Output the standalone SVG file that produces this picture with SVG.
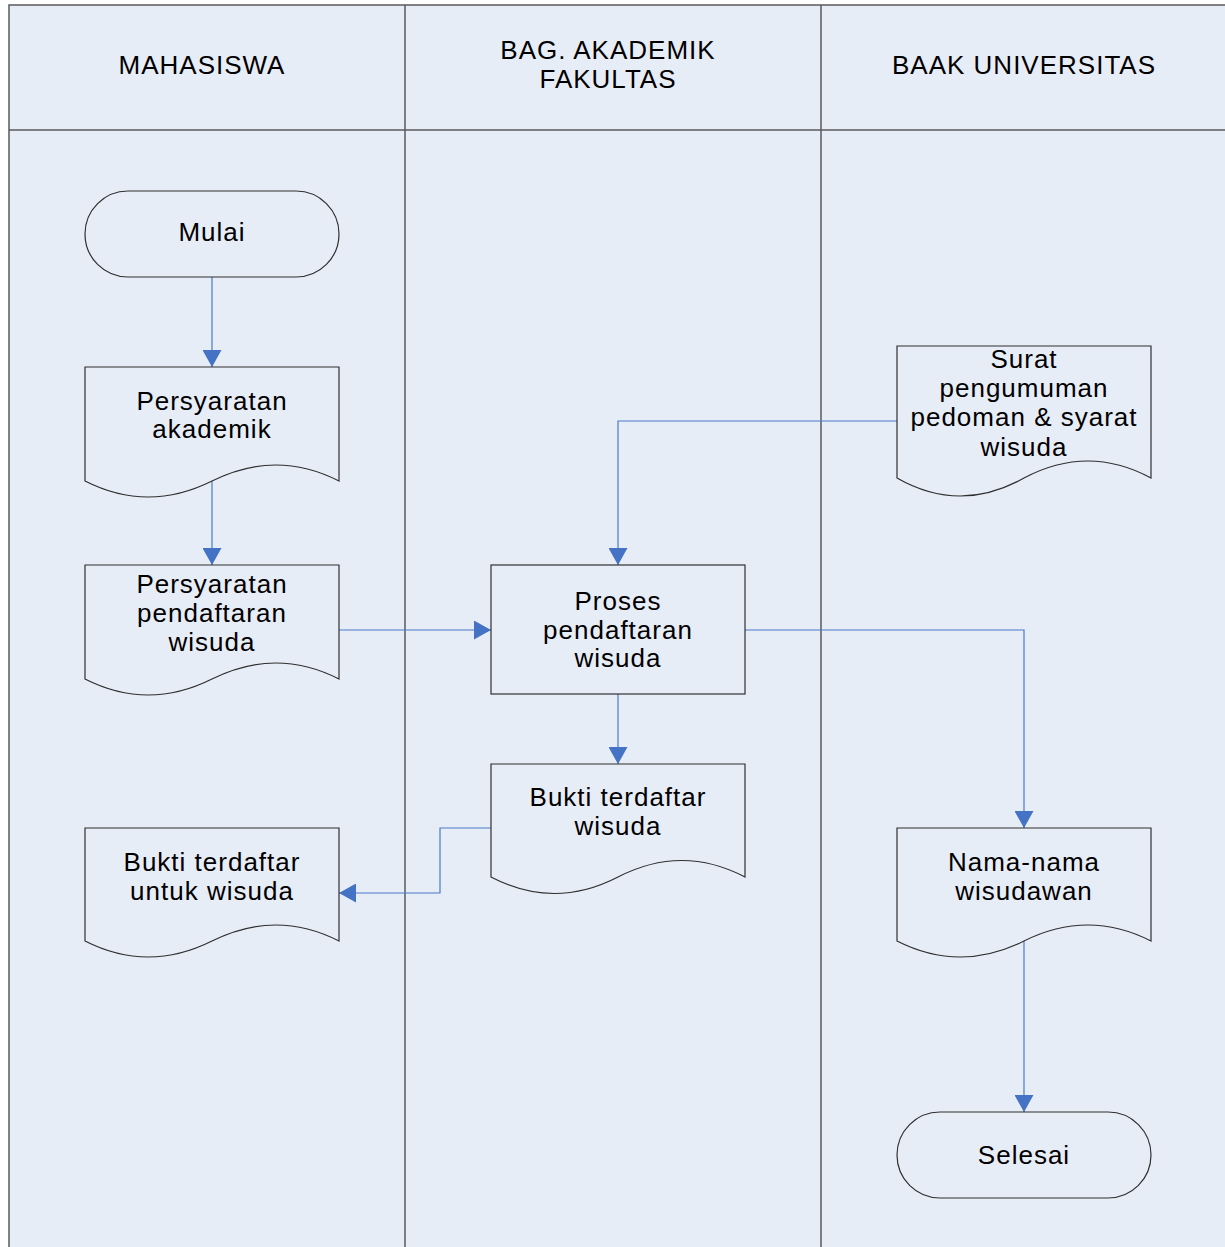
<svg xmlns="http://www.w3.org/2000/svg" width="1225" height="1247" viewBox="0 0 1225 1247">
<defs>
<marker id="arr" viewBox="0 0 17 19" refX="17" refY="9.5" markerWidth="17" markerHeight="19" markerUnits="userSpaceOnUse" orient="auto">
<path d="M0,0 L17,9.5 L0,19 Z" fill="#4472C4"/>
</marker>
<style>
.bg{fill:#E7EDF7}
.lane{fill:none;stroke:#5A5A5E;stroke-width:1.5}
.shape{fill:#E7EDF7;stroke:#2F2F2F;stroke-width:1.2}
.conn{fill:none;stroke:#4A7BC8;stroke-width:1.2}
text{font-family:"Liberation Sans",Arial,sans-serif;font-size:26px;letter-spacing:1px;fill:#000;text-anchor:middle}
</style>
</defs>
<rect x="0" y="0" width="1225" height="1247" fill="#FFFFFF"/>
<g id="swimlanes">
<rect class="bg" x="9" y="5" width="1216" height="1242"/>
<path class="lane" d="M9,1247 L9,5 L1225,5 M9,130 L1225,130 M405,5 L405,1247 M821,5 L821,1247"/>
<text x="202" y="74">MAHASISWA</text>
<text x="608" y="59">BAG. AKADEMIK</text>
<text x="608" y="88">FAKULTAS</text>
<text x="1024" y="74">BAAK UNIVERSITAS</text>
</g>
<g id="connectors">
<path class="conn" d="M212,277 L212,367" marker-end="url(#arr)"/>
<path class="conn" d="M212,481 L212,565" marker-end="url(#arr)"/>
<path class="conn" d="M339,630 L491,630" marker-end="url(#arr)"/>
<path class="conn" d="M897,421 L618,421 L618,565" marker-end="url(#arr)"/>
<path class="conn" d="M618,694 L618,764" marker-end="url(#arr)"/>
<path class="conn" d="M745,630 L1024,630 L1024,828" marker-end="url(#arr)"/>
<path class="conn" d="M491,828 L440,828 L440,893 L339,893" marker-end="url(#arr)"/>
<path class="conn" d="M1024,941 L1024,1112" marker-end="url(#arr)"/>
</g>
<g id="mulai">
<rect class="shape" x="85" y="191" width="254" height="86" rx="43" ry="43"/>
<text x="212" y="241">Mulai</text>
</g>
<g id="persyaratan-akademik">
<path class="shape" d="M85,367 L339,367 L339,481 Q276,449 212,481 Q148,513 85,481 Z"/>
<text x="212" y="410">Persyaratan</text>
<text x="212" y="438">akademik</text>
</g>
<g id="persyaratan-pendaftaran">
<path class="shape" d="M85,565 L339,565 L339,679 Q276,647 212,679 Q148,711 85,679 Z"/>
<text x="212" y="593">Persyaratan</text>
<text x="212" y="622">pendaftaran</text>
<text x="212" y="651">wisuda</text>
</g>
<g id="bukti-untuk-wisuda">
<path class="shape" d="M85,828 L339,828 L339,941 Q276,909 212,941 Q148,973 85,941 Z"/>
<text x="212" y="871">Bukti terdaftar</text>
<text x="212" y="900">untuk wisuda</text>
</g>
<g id="proses-pendaftaran">
<rect class="shape" x="491" y="565" width="254" height="129"/>
<text x="618" y="610">Proses</text>
<text x="618" y="639">pendaftaran</text>
<text x="618" y="667">wisuda</text>
</g>
<g id="bukti-terdaftar">
<path class="shape" d="M491,764 L745,764 L745,877 Q682,844 618,877 Q554,910 491,877 Z"/>
<text x="618" y="806">Bukti terdaftar</text>
<text x="618" y="835">wisuda</text>
</g>
<g id="surat-pengumuman">
<path class="shape" d="M897,346 L1151,346 L1151,478 Q1088,444 1024,478 Q960,514 897,478 Z"/>
<text x="1024" y="368">Surat</text>
<text x="1024" y="397">pengumuman</text>
<text x="1024" y="426">pedoman &amp; syarat</text>
<text x="1024" y="456">wisuda</text>
</g>
<g id="nama-wisudawan">
<path class="shape" d="M897,828 L1151,828 L1151,941 Q1088,909 1024,941 Q960,973 897,941 Z"/>
<text x="1024" y="871">Nama-nama</text>
<text x="1024" y="900">wisudawan</text>
</g>
<g id="selesai">
<rect class="shape" x="897" y="1112" width="254" height="86" rx="43" ry="43"/>
<text x="1024" y="1164">Selesai</text>
</g>
</svg>
